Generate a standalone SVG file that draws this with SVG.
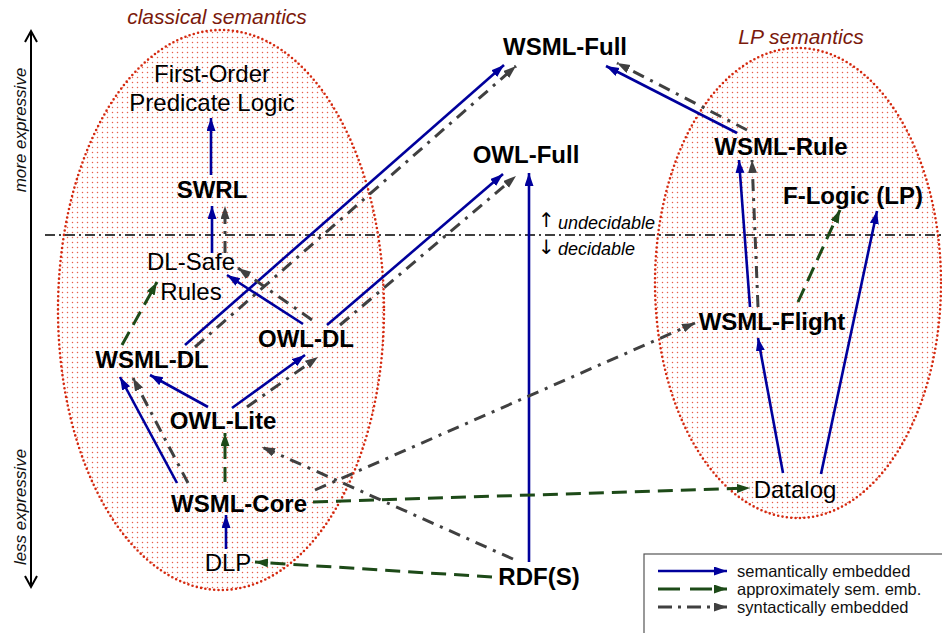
<svg xmlns="http://www.w3.org/2000/svg" width="942" height="633" viewBox="0 0 942 633">
<defs>
<style>
text{font-family:"Liberation Sans",Arial,sans-serif;fill:#000}
.n{font-size:24px;text-anchor:middle}
.b{font-weight:bold}
.sem{font-style:italic;font-size:21px;fill:#7b1a0c;text-anchor:middle}
.ax{font-style:italic;font-size:17px;fill:#111}
.dec{font-style:italic;font-size:18px}
.arr{font-family:"DejaVu Sans",sans-serif;font-size:20px}
.lg{font-size:16.5px;fill:#111}
.blue{stroke:#00009c;stroke-width:2.6;fill:none}
.green{stroke:#1d4a18;stroke-width:3;fill:none;stroke-dasharray:15 8}
.gray{stroke:#404040;stroke-width:3;fill:none;stroke-dasharray:12 7 3 7}
.blue.e{marker-end:url(#mb)}
.green.e{marker-end:url(#mg)}
.gray.e{marker-end:url(#mk)}
.ell{fill:url(#dots);stroke:#d42a10;stroke-width:2.6;stroke-linecap:round;stroke-dasharray:0 4.4}
</style>
<pattern id="dots" width="5" height="5" patternUnits="userSpaceOnUse">
<rect width="5" height="5" fill="#fff"/>
<circle cx="2.5" cy="2.5" r="0.75" fill="#e8604c"/>
</pattern>
<marker id="mb" markerUnits="userSpaceOnUse" markerWidth="14" markerHeight="10" refX="13" refY="4.5" orient="auto"><path d="M0,0 L13,4.5 L0,9 z" fill="#00009c"/></marker>
<marker id="mg" markerUnits="userSpaceOnUse" markerWidth="14" markerHeight="10" refX="13" refY="4.5" orient="auto"><path d="M0,0 L13,4.5 L0,9 z" fill="#1d4a18"/></marker>
<marker id="mk" markerUnits="userSpaceOnUse" markerWidth="14" markerHeight="10" refX="13" refY="4.5" orient="auto"><path d="M0,0 L13,4.5 L0,9 z" fill="#404040"/></marker>
</defs>
<rect width="942" height="633" fill="#fff"/>

<g id="regions">
<ellipse class="ell" cx="221" cy="310" rx="163" ry="280"/>
<ellipse class="ell" cx="798" cy="283" rx="143" ry="235"/>
<text class="sem" x="217" y="24">classical semantics</text>
<text class="sem" x="801" y="44">LP semantics</text>
</g>

<g id="axis">
<line x1="31" y1="31" x2="31" y2="587" stroke="#000" stroke-width="2"/>
<polyline points="25,42 31,31 37,42" fill="none" stroke="#000" stroke-width="2"/>
<polyline points="25,576 31,587 37,576" fill="none" stroke="#000" stroke-width="2"/>
<text class="ax" transform="translate(26,130) rotate(-90)" text-anchor="middle">more expressive</text>
<text class="ax" transform="translate(26,507) rotate(-90)" text-anchor="middle">less expressive</text>
<line x1="45" y1="235" x2="942" y2="235" stroke="#000" stroke-width="1.3" stroke-dasharray="10 4 2 4"/>
<text class="arr" x="538" y="227">↑</text>
<text class="arr" x="538" y="254">↓</text>
<text class="dec" x="558" y="229">undecidable</text>
<text class="dec" x="558" y="255">decidable</text>
</g>

<g id="connectors">
<line class="blue e" x1="211" y1="175" x2="211" y2="118"/>
<line class="blue e" x1="212" y1="253" x2="212" y2="206"/>
<line class="blue e" x1="185" y1="345" x2="504" y2="65"/>
<line class="blue e" x1="303" y1="324" x2="227" y2="275"/>
<line class="blue e" x1="327" y1="325" x2="503" y2="174"/>
<line class="blue e" x1="529" y1="562" x2="529" y2="173"/>
<line class="blue e" x1="208" y1="407" x2="150" y2="375"/>
<line class="blue e" x1="232" y1="408" x2="305" y2="355"/>
<line class="blue e" x1="177" y1="483" x2="120" y2="377"/>
<line class="blue e" x1="226" y1="549" x2="226" y2="515"/>
<line class="blue e" x1="737" y1="133" x2="606" y2="66"/>
<line class="blue e" x1="750" y1="307" x2="739" y2="160"/>
<line class="blue e" x1="783" y1="473" x2="758" y2="338"/>
<line class="blue e" x1="821" y1="474" x2="877" y2="211"/>

<line class="gray e" x1="225" y1="253" x2="225" y2="206"/>
<line class="gray e" x1="195" y1="347" x2="516" y2="66"/>
<line class="gray e" x1="312" y1="320" x2="238" y2="268"/>
<line class="gray e" x1="340" y1="325" x2="516" y2="176"/>
<line class="gray e" x1="747" y1="130" x2="617" y2="63"/>
<line class="gray e" x1="758" y1="307" x2="752" y2="160"/>
<line class="gray e" x1="315" y1="490" x2="695" y2="323"/>
<line class="gray e" x1="513" y1="559" x2="262" y2="447"/>
<line class="gray e" x1="188" y1="483" x2="133" y2="378"/>
<line class="gray e" x1="247" y1="407" x2="318" y2="357"/>

<line class="green e" x1="122" y1="345" x2="157" y2="282"/>
<line class="green e" x1="225" y1="482" x2="225" y2="433"/>
<line class="green e" x1="313" y1="502" x2="750" y2="488"/>
<line class="green e" x1="492" y1="577" x2="255" y2="562"/>
<line class="green e" x1="798" y1="302" x2="840" y2="210"/>
</g>

<g id="fol"><text class="n" x="212" y="82">First-Order</text><text class="n" x="212" y="111">Predicate Logic</text></g>
<g id="swrl"><text class="n b" x="212" y="198">SWRL</text></g>
<g id="dlsafe"><text class="n" x="191" y="270">DL-Safe</text><text class="n" x="191" y="300">Rules</text></g>
<g id="wsmldl"><text class="n b" x="152" y="368">WSML-DL</text></g>
<g id="owldl"><text class="n b" x="306" y="347">OWL-DL</text></g>
<g id="owllite"><text class="n b" x="223" y="429">OWL-Lite</text></g>
<g id="wsmlcore"><text class="n b" x="239" y="512">WSML-Core</text></g>
<g id="dlp"><text class="n" x="228" y="571">DLP</text></g>
<g id="rdfs"><text class="n b" x="539" y="585">RDF(S)</text></g>
<g id="wsmlfull"><text class="n b" x="565" y="55">WSML-Full</text></g>
<g id="owlfull"><text class="n b" x="526" y="163">OWL-Full</text></g>
<g id="wsmlrule"><text class="n b" x="781" y="155">WSML-Rule</text></g>
<g id="flogic"><text class="n b" x="853" y="204">F-Logic (LP)</text></g>
<g id="wsmlflight"><text class="n b" x="772" y="330">WSML-Flight</text></g>
<g id="datalog"><text class="n" x="795" y="498">Datalog</text></g>

<g id="legend">
<rect x="644" y="554" width="310" height="100" fill="#fff" stroke="#555" stroke-width="1.2"/>
<line class="blue e" x1="658" y1="571" x2="727" y2="571"/>
<line class="green e" x1="658" y1="589" x2="727" y2="589" style="stroke-dasharray:22 10"/>
<line class="gray e" x1="658" y1="607" x2="727" y2="607" style="stroke-dasharray:14 6 3 6"/>
<text class="lg" x="737" y="577">semantically embedded</text>
<text class="lg" x="737" y="595">approximately sem. emb.</text>
<text class="lg" x="737" y="613">syntactically embedded</text>
</g>
</svg>
